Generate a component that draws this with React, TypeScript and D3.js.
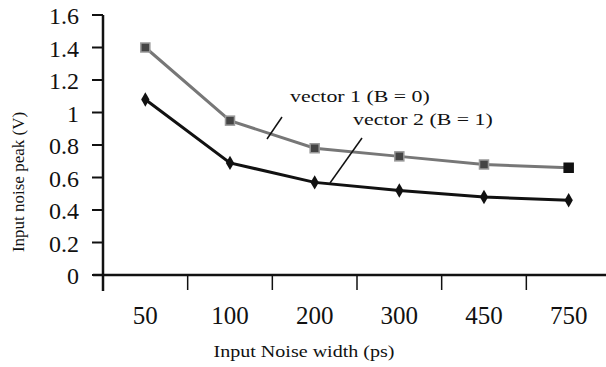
import React, { useEffect, useRef } from 'react';
import * as d3 from 'd3';

const widths = ['50', '100', '200', '300', '450', '750'];
const vector1 = [1.4, 0.95, 0.78, 0.73, 0.68, 0.66];
const vector2 = [1.08, 0.69, 0.57, 0.52, 0.48, 0.46];
const yTicks = [0, 0.2, 0.4, 0.6, 0.8, 1, 1.2, 1.4, 1.6];

const App = () => {
  const ref = useRef<SVGSVGElement>(null);

  useEffect(() => {
    const svg = d3.select(ref.current)
      .attr('width', 606)
      .attr('height', 367);

    svg.selectAll('*').remove();

    const font = '"Liberation Serif", "Times New Roman", serif';

    const x = d3.scaleBand<string>()
      .domain(widths)
      .range([103, 611]);

    const y = d3.scaleLinear()
      .domain([0, 1.6])
      .range([275, 15]);

    const cx = (i: number) => (x(widths[i]) as number) + x.bandwidth() / 2;

    // y axis
    svg.append('line')
      .attr('x1', 103).attr('x2', 103)
      .attr('y1', y(1.6)).attr('y2', 291)
      .attr('stroke', '#111').attr('stroke-width', 2.5);

    svg.selectAll('.ytick')
      .data(yTicks)
      .enter()
      .append('line')
      .attr('x1', 92).attr('x2', 103)
      .attr('y1', d => y(d)).attr('y2', d => y(d))
      .attr('stroke', '#111').attr('stroke-width', 2);

    svg.selectAll('.ylab')
      .data(yTicks)
      .enter()
      .append('text')
      .attr('x', 79)
      .attr('y', d => y(d) + 9)
      .attr('text-anchor', 'end')
      .attr('font-family', font)
      .attr('font-size', 24)
      .attr('fill', '#111')
      .text(d => String(d));

    // x axis
    svg.append('line')
      .attr('x1', 93).attr('x2', 606)
      .attr('y1', 275).attr('y2', 275)
      .attr('stroke', '#111').attr('stroke-width', 2.5);

    svg.selectAll('.xtick')
      .data(widths.slice(1))
      .enter()
      .append('line')
      .attr('x1', d => x(d) as number).attr('x2', d => x(d) as number)
      .attr('y1', 275).attr('y2', 290)
      .attr('stroke', '#111').attr('stroke-width', 1.5);

    svg.selectAll('.xlab')
      .data(widths)
      .enter()
      .append('text')
      .attr('x', (d, i) => cx(i))
      .attr('y', 324)
      .attr('text-anchor', 'middle')
      .attr('font-family', font)
      .attr('font-size', 25)
      .attr('fill', '#111')
      .text(d => d);

    // axis titles
    svg.append('text')
      .attr('transform', 'translate(304,357) scale(1.18,1)')
      .attr('text-anchor', 'middle')
      .attr('font-family', font)
      .attr('font-size', 17)
      .attr('fill', '#111')
      .text('Input Noise width (ps)');

    svg.append('text')
      .attr('transform', 'translate(24,182) rotate(-90)')
      .attr('text-anchor', 'middle')
      .attr('font-family', font)
      .attr('font-size', 17)
      .attr('fill', '#111')
      .text('Input noise peak (V)');

    const line = d3.line<number>()
      .x((d, i) => cx(i))
      .y(d => y(d));

    // vector 1 (grey line, squares)
    svg.append('path')
      .datum(vector1)
      .attr('d', line)
      .attr('fill', 'none')
      .attr('stroke', '#777')
      .attr('stroke-width', 3);

    svg.selectAll('.m1')
      .data(vector1)
      .enter()
      .append('rect')
      .attr('x', (d, i) => cx(i) - 4.5)
      .attr('y', d => y(d) - 4.5)
      .attr('width', 9).attr('height', 9)
      .attr('fill', (d, i) => (i === vector1.length - 1 ? '#111' : '#444'))
      .attr('stroke', (d, i) => (i === vector1.length - 1 ? '#111' : '#999'))
      .attr('stroke-width', 1.5);

    // vector 2 (black line, small diamonds)
    svg.append('path')
      .datum(vector2)
      .attr('d', line)
      .attr('fill', 'none')
      .attr('stroke', '#111')
      .attr('stroke-width', 3);

    svg.selectAll('.m2')
      .data(vector2)
      .enter()
      .append('path')
      .attr('d', d3.symbol(d3.symbolDiamond, 60))
      .attr('transform', (d, i) => `translate(${cx(i)},${y(d)})`)
      .attr('fill', '#111');

    // annotations
    svg.append('text')
      .attr('transform', 'translate(290,102) scale(1.25,1)')
      .attr('font-family', font)
      .attr('font-size', 17.5)
      .attr('fill', '#111')
      .text('vector 1 (B = 0)');

    svg.append('line')
      .attr('x1', 282).attr('y1', 117)
      .attr('x2', 267).attr('y2', 139)
      .attr('stroke', '#111').attr('stroke-width', 1.5);

    svg.append('text')
      .attr('transform', 'translate(353,125) scale(1.25,1)')
      .attr('font-family', font)
      .attr('font-size', 17.5)
      .attr('fill', '#111')
      .text('vector 2 (B = 1)');

    svg.append('line')
      .attr('x1', 362).attr('y1', 138)
      .attr('x2', 330).attr('y2', 183)
      .attr('stroke', '#111').attr('stroke-width', 1.5);
  }, []);

  return <svg ref={ref} style={{ position: 'absolute', left: 0, top: 0, background: '#fff' }}></svg>;
};

export default App;
